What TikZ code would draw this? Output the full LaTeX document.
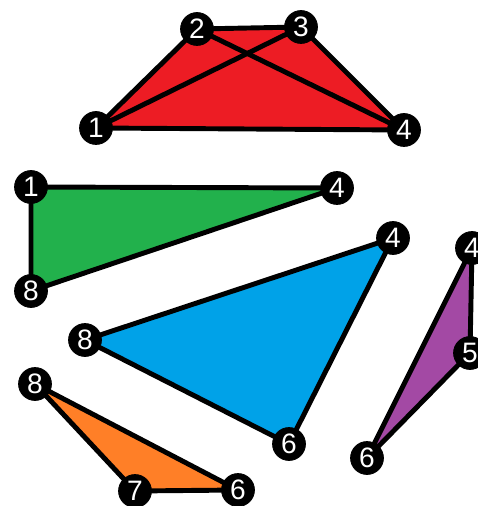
\documentclass[tikz,border=0pt]{standalone}
\usepackage{fontspec}
\setmainfont{Liberation Sans}
\usetikzlibrary{backgrounds}
\definecolor{cRed}{HTML}{ED1C24}
\definecolor{cGreen}{HTML}{22B14C}
\definecolor{cBlue}{HTML}{00A2E8}
\definecolor{cPurple}{HTML}{A349A4}
\definecolor{cOrange}{HTML}{FF7F27}
\tikzset{
  vtx/.style={circle,fill=black,draw=black,inner sep=0pt,minimum size=0.66cm,
    text=white,font=\fontsize{16}{16}\selectfont},
  edge/.style={line width=2.8pt,line cap=round}
}

\begin{document}
\begin{tikzpicture}[x=0.02cm,y=-0.02cm]
  \useasboundingbox (0,0) rectangle (477,506);
  % red quad
  \node[vtx] (r1) at (96,128) {1};
  \node[vtx] (r2) at (197,29) {2};
  \node[vtx] (r3) at (301,27) {3};
  \node[vtx] (r4) at (404,130) {4};
  % green
  \node[vtx] (g1) at (31,187) {1};
  \node[vtx] (g4) at (337,188) {4};
  \node[vtx] (g8) at (31,291) {8};
  % blue
  \node[vtx] (b4) at (393,238) {4};
  \node[vtx] (b8) at (85,340) {8};
  \node[vtx] (b6) at (289,444) {6};
  % purple
  \node[vtx] (p4) at (472,248) {4};
  \node[vtx] (p5) at (470,353) {5};
  \node[vtx] (p6) at (367,458) {6};
  % orange
  \node[vtx] (o8) at (35,384) {8};
  \node[vtx] (o7) at (135,491) {7};
  \node[vtx] (o6) at (238,490) {6};
  \begin{scope}[on background layer]
    \fill[cRed] (r1.center) -- (r2.center) -- (r3.center) -- (r4.center) -- cycle;
    \fill[cGreen] (g1.center) -- (g4.center) -- (g8.center) -- cycle;
    \fill[cBlue] (b4.center) -- (b8.center) -- (b6.center) -- cycle;
    \fill[cPurple] (p4.center) -- (p5.center) -- (p6.center) -- cycle;
    \fill[cOrange] (o8.center) -- (o7.center) -- (o6.center) -- cycle;
    \draw[edge] (r1) -- (r2) -- (r3) -- (r4) -- (r1);
    \draw[edge] (r1) -- (r3);
    \draw[edge] (r2) -- (r4);
    \draw[edge] (g1) -- (g4) -- (g8) -- (g1);
    \draw[edge] (b4) -- (b8) -- (b6) -- (b4);
    \draw[edge] (p4) -- (p5) -- (p6) -- (p4);
    \draw[edge] (o8) -- (o7) -- (o6) -- (o8);
  \end{scope}
\end{tikzpicture}
\end{document}
